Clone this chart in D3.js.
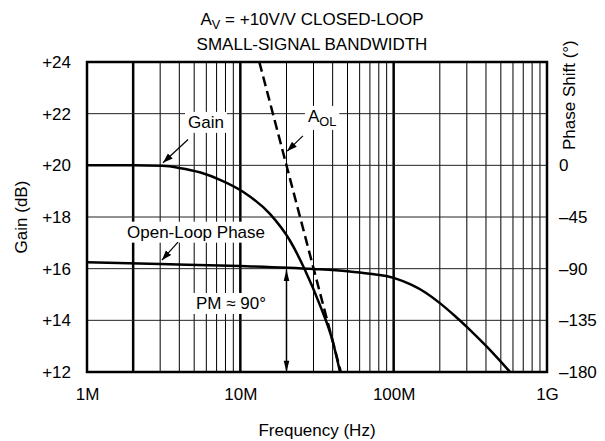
<!DOCTYPE html>
<html><head><meta charset="utf-8">
<script src="https://cdn.jsdelivr.net/npm/d3@7"></script>
<style>
body{margin:0;background:#fff;}
svg{display:block;font-family:"Liberation Sans",Arial,Helvetica,sans-serif;}
</style></head>
<body><svg id="c" width="605" height="441"></svg>
<script>
// ---- data ----
const freqTicks = [1e6, 1e7, 1e8, 1e9];
const freqTickLabels = ["1M", "10M", "100M", "1G"];
const gainTicks = [12, 14, 16, 18, 20, 22, 24];
const gainTickLabels = ["+12", "+14", "+16", "+18", "+20", "+22", "+24"];
const phaseTicks = [0, -45, -90, -135, -180];
const phaseTickLabels = ["0", "\u201345", "\u201390", "\u2013135", "\u2013180"];
const boldFreqs = [2e6, 1e7, 1e8];

const gainFreq = [1e6, 2e6, 3.1e6, 4e6, 5.5e6, 7.5e6, 10.4e6, 15.6e6, 21e6, 26.4e6, 33e6, 40e6, 44.7e6];
const gainDb   = [20, 20, 19.98, 19.9, 19.72, 19.42, 18.98, 18.12, 17.1, 15.95, 14.6, 13.2, 12];

const aolFreq = [13.3e6, 45.2e6];
const aolDb   = [24, 12];

const phaseFreq = [1e6, 3e6, 10e6, 30e6, 50e6, 70e6, 100e6, 130e6, 160e6, 200e6, 250e6, 307e6, 405e6, 574e6];
const phaseDeg  = [-84.5, -86, -87.7, -90.3, -92.3, -94.5, -98, -104, -110.5, -120, -131, -142, -158, -180];

// ---- layout ----
const svg = d3.select("#c");
const L = 87, R = 547, T = 62, B = 372;
const x = d3.scaleLog().domain([1e6, 1e9]).range([L, R]);
const yG = d3.scaleLinear().domain([12, 24]).range([B, T]);
const yP = d3.scaleLinear().domain([-180, 90]).range([B, T]);
const FS = 17;

// grid
const minor = [];
for (let d = 6; d < 9; d++) for (let m = 2; m <= 9; m++) minor.push(m * Math.pow(10, d));
minor.push(1e7, 1e8);
const grid = svg.append("g");
grid.selectAll("line.v").data(minor).join("line")
  .attr("x1", d => x(d)).attr("x2", d => x(d)).attr("y1", T).attr("y2", B)
  .attr("stroke", "#000")
  .attr("stroke-width", d => boldFreqs.some(b => Math.abs(b - d) / b < 1e-6) ? 2.5 : 1);
grid.selectAll("line.h").data(gainTicks.slice(1, -1)).join("line")
  .attr("x1", L).attr("x2", R).attr("y1", d => yG(d)).attr("y2", d => yG(d))
  .attr("stroke", "#222").attr("stroke-width", 1);

// axes (labels)
const axB = svg.append("g").attr("transform", `translate(0,${B})`)
  .call(d3.axisBottom(x).tickValues(freqTicks).tickFormat((d, i) => freqTickLabels[i]).tickSize(0).tickPadding(16));
const axL = svg.append("g").attr("transform", `translate(${L},0)`)
  .call(d3.axisLeft(yG).tickValues(gainTicks).tickFormat((d, i) => gainTickLabels[i]).tickSize(0).tickPadding(16));
const axR = svg.append("g").attr("transform", `translate(${R},0)`)
  .call(d3.axisRight(yP).tickValues(phaseTicks).tickFormat((d, i) => phaseTickLabels[i]).tickSize(0).tickPadding(12));
[axB, axL, axR].forEach(a => {
  a.select(".domain").remove();
  a.selectAll("text").attr("font-size", FS).attr("fill", "#000")
    .attr("font-family", '"Liberation Sans",Arial,sans-serif');
});

// clip
svg.append("clipPath").attr("id", "pc").append("rect")
  .attr("x", L).attr("y", T).attr("width", R - L).attr("height", B - T);
const plot = svg.append("g").attr("clip-path", "url(#pc)");

const line = (xs, ys, yS) => d3.line().x((d, i) => x(xs[i])).y((d, i) => yS(ys[i])).curve(d3.curveMonotoneX)(xs);

plot.append("path").attr("d", line(phaseFreq, phaseDeg, yP))
  .attr("fill", "none").attr("stroke", "#000").attr("stroke-width", 2.5);
plot.append("path").attr("d", line(gainFreq, gainDb, yG))
  .attr("fill", "none").attr("stroke", "#000").attr("stroke-width", 2.5);
plot.append("path").attr("d", d3.line().x((d, i) => x(aolFreq[i])).y((d, i) => yG(aolDb[i]))(aolFreq))
  .attr("fill", "none").attr("stroke", "#000").attr("stroke-width", 2.5).attr("stroke-dasharray", "10,5");

// frame
svg.append("rect").attr("x", L).attr("y", T).attr("width", R - L).attr("height", B - T)
  .attr("fill", "none").attr("stroke", "#000").attr("stroke-width", 2.5);

// markers
const defs = svg.append("defs");
defs.append("marker").attr("id", "ah").attr("viewBox", "0 0 10 10").attr("refX", 10).attr("refY", 5)
  .attr("markerWidth", 10).attr("markerHeight", 10).attr("markerUnits", "userSpaceOnUse").attr("orient", "auto")
  .append("path").attr("d", "M0,1.5 L10,5 L0,8.5 Z").attr("fill", "#000");
defs.append("marker").attr("id", "ah2").attr("viewBox", "0 0 14 10").attr("refX", 14).attr("refY", 5)
  .attr("markerWidth", 14).attr("markerHeight", 8).attr("markerUnits", "userSpaceOnUse").attr("orient", "auto-start-reverse")
  .append("path").attr("d", "M0,1.5 L14,5 L0,8.5 Z").attr("fill", "#000");

// annotation labels with white backing
function label(txt, fx, gy, anchor, sub) {
  const g = svg.append("g");
  const t = g.append("text").attr("x", x(fx)).attr("y", yG(gy)).attr("text-anchor", anchor)
    .attr("font-size", FS).attr("fill", "#000");
  t.append("tspan").text(txt);
  if (sub) t.append("tspan").text(sub).attr("font-size", FS * 0.75).attr("dy", 4);
  const bb = t.node().getBBox();
  g.insert("rect", "text").attr("x", bb.x - 3).attr("y", bb.y - 1).attr("width", bb.width + 6).attr("height", bb.height + 2).attr("fill", "#fff");
  return g;
}
function arrow(f1, g1, f2, g2) {
  svg.append("line").attr("x1", x(f1)).attr("y1", yG(g1)).attr("x2", x(f2)).attr("y2", yG(g2))
    .attr("stroke", "#000").attr("stroke-width", 1.2).attr("marker-end", "url(#ah)");
}

label("Gain", 5.97e6, 21.45, "middle");
arrow(4.56e6, 21.0, 3.13e6, 20.1);

label("A", 27.6e6, 21.68, "start", "OL");
arrow(25.6e6, 21.14, 20.2e6, 20.55);

label("Open-Loop Phase", 5.14e6, 17.2, "middle");
arrow(3.92e6, 17.03, 3.08e6, 16.33);

label("PM \u2248 90\u00B0", 8.69e6, 14.44, "middle");

// PM double arrow
svg.append("line").attr("x1", x(2e7)).attr("x2", x(2e7)).attr("y1", yP(-91)).attr("y2", yP(-180))
  .attr("stroke", "#000").attr("stroke-width", 1.5)
  .attr("marker-start", "url(#ah2)").attr("marker-end", "url(#ah2)");

// title
const tt = svg.append("text").attr("x", 312).attr("y", 25).attr("text-anchor", "middle").attr("font-size", FS);
tt.append("tspan").text("A");
tt.append("tspan").text("V").attr("font-size", FS * 0.75).attr("dy", 4);
tt.append("tspan").text(" = +10V/V CLOSED-LOOP").attr("dy", -4);
svg.append("text").attr("x", 312).attr("y", 50).attr("text-anchor", "middle").attr("font-size", FS)
  .text("SMALL-SIGNAL BANDWIDTH");

// axis titles
svg.append("text").attr("transform", `translate(27,${(T + B) / 2}) rotate(-90)`).attr("text-anchor", "middle")
  .attr("font-size", FS).text("Gain (dB)");
svg.append("text").attr("transform", `translate(575,150) rotate(-90)`).attr("text-anchor", "start")
  .attr("font-size", FS).text("Phase Shift (\u00B0)");
svg.append("text").attr("x", (L + R) / 2).attr("y", 436).attr("text-anchor", "middle")
  .attr("font-size", FS).text("Frequency (Hz)");
</script></body></html>
